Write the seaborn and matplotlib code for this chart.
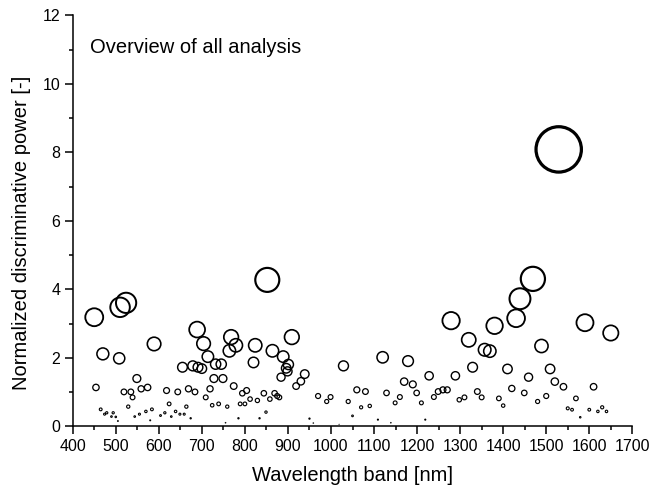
import matplotlib
matplotlib.use("Agg")
import matplotlib.pyplot as plt
import seaborn as sns
import pandas as pd
import numpy as np
from matplotlib.ticker import MultipleLocator

# wavelength band [nm] and normalized discriminative power
wavelength = [
    450, 470, 510, 524, 508, 589, 689, 704, 714, 655, 679, 691, 700, 732, 745,
    768, 764, 779, 824, 820, 852, 864, 889, 901, 896, 899, 909, 884, 919, 930,
    939, 1029, 1120, 1179, 1228, 1170, 1190, 1199, 1289, 1279, 1320, 1357, 1369,
    1380, 1430, 1439, 1469, 1489, 1590, 1650, 1529, 1329, 1410, 1459, 1509, 1520,
    1540, 1610,
    454, 549, 519, 535, 539, 559, 574, 618, 644, 669, 684, 719, 728, 749, 774,
    709, 724, 739, 759, 789, 800, 804, 794, 812, 829, 844, 858, 849, 869, 875,
    880, 970, 990, 999, 1040, 1060, 1080, 1070, 1090, 1129, 1149, 1160, 1210,
    1239, 1249, 1260, 1270, 1298, 1340, 1350, 1310, 1390, 1400, 1420, 1449, 1480,
    1500, 1569,
    465, 474, 479, 490, 494, 500, 505, 529, 544, 555, 570, 580, 584, 604, 614,
    624, 629, 639, 649, 659, 664, 674, 755, 785, 834, 950, 959, 1019, 1050, 1109,
    1139, 1219, 1550, 1560, 1579, 1600, 1620, 1630, 1640,
]
power = [
    3.19, 2.12, 3.48, 3.61, 1.99, 2.41, 2.83, 2.42, 2.04, 1.73, 1.77, 1.73, 1.69,
    1.82, 1.82, 2.61, 2.21, 2.37, 2.37, 1.87, 4.28, 2.21, 2.04, 1.81, 1.70, 1.61,
    2.61, 1.44, 1.18, 1.32, 1.53, 1.77, 2.02, 1.91, 1.48, 1.31, 1.23, 0.98, 1.48,
    3.09, 2.53, 2.24, 2.20, 2.94, 3.16, 3.73, 4.31, 2.35, 3.03, 2.73, 8.09, 1.73,
    1.68, 1.44, 1.68, 1.31, 1.16, 1.16,
    1.14, 1.40, 1.01, 1.01, 0.85, 1.10, 1.14, 1.05, 1.01, 1.10, 1.01, 1.10, 1.40,
    1.40, 1.18, 0.85, 0.62, 0.66, 0.58, 0.66, 0.66, 1.05, 0.97, 0.80, 0.76, 0.97,
    0.80, 0.42, 0.97, 0.89, 0.85, 0.89, 0.73, 0.86, 0.73, 1.07, 1.02, 0.56, 0.60,
    0.98, 0.69, 0.86, 0.69, 0.86, 1.02, 1.07, 1.07, 0.78, 1.02, 0.85, 0.85, 0.82,
    0.61, 1.11, 0.98, 0.73, 0.89, 0.82,
    0.50, 0.36, 0.40, 0.29, 0.40, 0.28, 0.16, 0.58, 0.29, 0.36, 0.44, 0.18, 0.50,
    0.32, 0.40, 0.66, 0.29, 0.44, 0.36, 0.36, 0.58, 0.24, 0.11, 0.24, 0.24, 0.23,
    0.10, 0.06, 0.31, 0.20, 0.11, 0.20, 0.53, 0.49, 0.27, 0.49, 0.44, 0.56, 0.44,
]

df = pd.DataFrame({"wavelength": wavelength, "power": power})

sns.set_style("white")
plt.rcParams["font.family"] = ["Liberation Sans", "DejaVu Sans"]
plt.rcParams.update({"text.color": "black", "axes.labelcolor": "black",
                     "xtick.color": "black", "ytick.color": "black"})

fig = plt.figure(figsize=(6.51, 4.93), dpi=100)
ax = fig.add_axes([0.1117, 0.1349, 0.8596, 0.8337])

# circle radius grows with the value
area = 16.3 * df["power"] ** 2
lw = 0.7 + 0.2 * df["power"]
sns.scatterplot(data=df, x="wavelength", y="power", s=area, ax=ax,
                facecolor="none", edgecolor="black", linewidth=lw,
                legend=False, clip_on=False)

ax.set_xlim(400, 1700)
ax.set_ylim(0, 12)
ax.xaxis.set_major_locator(MultipleLocator(100))
ax.xaxis.set_minor_locator(MultipleLocator(50))
ax.yaxis.set_major_locator(MultipleLocator(2))
ax.yaxis.set_minor_locator(MultipleLocator(1))
ax.tick_params(which="major", direction="out", length=5.5, width=1.1,
               labelsize=11.5, color="black", bottom=True, left=True)
ax.tick_params(which="minor", direction="out", length=3, width=1.1,
               color="black", bottom=True, left=True)

for side in ["top", "right"]:
    ax.spines[side].set_visible(False)
for side in ["left", "bottom"]:
    ax.spines[side].set_linewidth(1.1)
    ax.spines[side].set_color("black")

ax.set_xlabel("Wavelength band [nm]", fontsize=14.5, labelpad=9)
ax.set_ylabel("Normalized discriminative power [-]", fontsize=14.5)
ax.yaxis.set_label_coords(-0.074, 0.47)
ax.text(0.03, 0.945, "Overview of all analysis", transform=ax.transAxes,
        fontsize=14.5, va="top", ha="left")

fig.savefig("out.png", dpi=100)
